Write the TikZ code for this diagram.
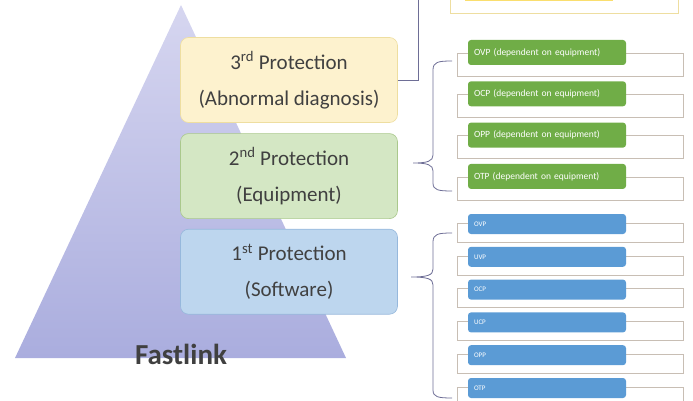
\documentclass[tikz,border=0pt]{standalone}
\usepackage{fontspec}
\setmainfont{Carlito}
\usetikzlibrary{positioning}
\definecolor{pyrtop}{RGB}{214,214,240}
\definecolor{pyrbot}{RGB}{170,173,222}
\definecolor{textgray}{RGB}{64,64,64}
\definecolor{yelfill}{RGB}{253,242,206}
\definecolor{yeldraw}{RGB}{238,222,160}
\definecolor{grnfill}{RGB}{212,231,196}
\definecolor{grndraw}{RGB}{170,200,140}
\definecolor{blufill}{RGB}{189,214,238}
\definecolor{bludraw}{RGB}{150,184,220}
\definecolor{itemgreen}{RGB}{112,173,71}
\definecolor{itemblue}{RGB}{91,155,213}
\definecolor{itemyellow}{RGB}{250,222,110}
\definecolor{framegray}{RGB}{200,190,180}
\definecolor{linegray}{RGB}{110,110,150}

\begin{document}
\begin{tikzpicture}[x=1pt,y=-1pt,semithick]
\tikzstyle{prot}=[draw,rounded corners=8pt,minimum width=217pt,minimum height=85pt,align=center,text=textgray,font=\fontsize{21}{36}\selectfont]
\tikzstyle{item}=[rounded corners=3pt,text=white,text width=146pt,inner sep=6pt,align=left]
\tikzstyle{frame}=[draw=framegray,line width=0.6pt]
\tikzstyle{brace}=[draw=linegray,line width=0.8pt]
\useasboundingbox (0,0) rectangle (693,401);

% pyramid
\shade[top color=pyrtop,bottom color=pyrbot] (181,5) -- (346,358) -- (15,358) -- cycle;
\node[font=\bfseries\fontsize{29}{29}\selectfont,text=textgray] (fast) at (181,354) {Fastlink};

% protection levels
\node[prot,fill=yelfill,draw=yeldraw] (prot3) at (289,80) {3\textsuperscript{rd} Protection\\(Abnormal diagnosis)};
\node[prot,fill=grnfill,draw=grndraw] (prot2) [below=10.5pt of prot3] {2\textsuperscript{nd} Protection\\(Equipment)};
\node[prot,fill=blufill,draw=bludraw] (prot1) [below=10pt of prot2] {1\textsuperscript{st} Protection\\(Software)};

% top (cut off)
\coordinate (topend) at (418,0);
\draw[linegray,line width=0.8pt] (prot3.east) -| (topend);
\draw[draw=yeldraw,line width=0.8pt] (450,-10) rectangle (678,13);
\fill[itemyellow] (465,-10) rectangle (613,1.5);

% equipment items
\foreach \lab [count=\i] in {OVP,OCP,OPP,OTP} {
  \draw[frame] (457,{53+41.3*(\i-1)}) rectangle ++(226,23);
  \node[item,fill=itemgreen,minimum height=25pt,font=\fontsize{9.5}{10}\selectfont] (g\i) at (547,{52.5+41.3*(\i-1)}) {\lab\ (dependent on equipment)};
}
\coordinate (gtip) at (413,163);
\draw[brace] (452,61) .. controls (438,61) and (433,62) .. (433,70) -- (433,155)
  .. controls (433,161) and (428,163) .. (gtip)
  .. controls (428,163) and (433,165) .. (433,171) -- (433,183)
  .. controls (433,190) and (438,191) .. (452,191);

% software items
\foreach \lab [count=\i] in {OVP,UVP,OCP,UCP,OPP,OTP} {
  \draw[frame] (457,{223+32.8*(\i-1)}) rectangle ++(226,19);
  \node[item,fill=itemblue,minimum height=20pt,font=\fontsize{7}{8}\selectfont] (b\i) at (547,{224+32.8*(\i-1)}) {\lab};
}
\coordinate (btip) at (411,277);
\draw[brace] (452,233) .. controls (438,233) and (433,234) .. (433,242) -- (433,269)
  .. controls (433,275) and (428,277) .. (btip)
  .. controls (428,277) and (433,279) .. (433,285) -- (433,390)
  .. controls (433,397) and (438,398) .. (452,398);
\end{tikzpicture}
\end{document}
